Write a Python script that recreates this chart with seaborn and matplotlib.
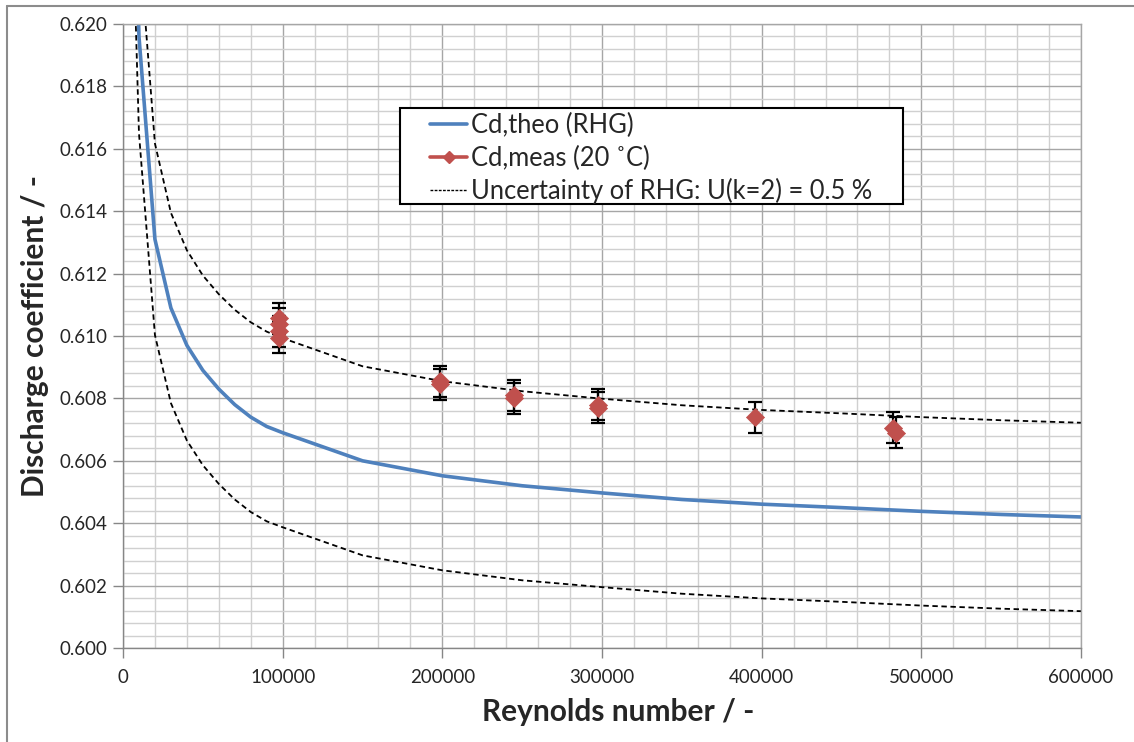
import numpy as np
import pandas as pd
import matplotlib
matplotlib.use("Agg")
import matplotlib.pyplot as plt
from matplotlib.lines import Line2D
from matplotlib.patches import Rectangle
from matplotlib.ticker import MultipleLocator, FormatStrFormatter
import seaborn as sns

# theoretical curve (RHG)
re_theo = [5000, 10000, 20000, 30000, 40000, 50000, 60000, 70000, 80000, 90000,
           100000, 150000, 200000, 250000, 300000, 350000, 400000, 450000,
           500000, 550000, 600000]
cd_theo = [0.62850, 0.61960, 0.61310, 0.61090, 0.60970, 0.60890, 0.60830, 0.60780,
           0.60740, 0.60710, 0.60690, 0.60600, 0.60552, 0.60520, 0.60497, 0.60476,
           0.60461, 0.60450, 0.60438, 0.60428, 0.60420]
# uncertainty band +/- 0.5 %
cd_upper = [0.63164, 0.62270, 0.61617, 0.61395, 0.61275, 0.61194, 0.61134, 0.61084,
            0.61044, 0.61014, 0.60993, 0.60903, 0.60855, 0.60823, 0.60799, 0.60778,
            0.60763, 0.60752, 0.60740, 0.60730, 0.60722]
cd_lower = [0.62536, 0.61650, 0.61003, 0.60785, 0.60665, 0.60586, 0.60526, 0.60476,
            0.60436, 0.60406, 0.60387, 0.60297, 0.60249, 0.60217, 0.60195, 0.60174,
            0.60159, 0.60148, 0.60136, 0.60126, 0.60118]

# measurements at 20 C
re_meas = [98000, 98000, 98000, 98000, 198500, 198500, 245000, 245000,
           297500, 297500, 396000, 482500, 484000]
cd_meas = [0.61057, 0.61040, 0.61015, 0.60995, 0.60855, 0.60845, 0.60810, 0.60800,
           0.60780, 0.60770, 0.60740, 0.60706, 0.60690]
cd_err = [0.0005] * len(cd_meas)

theo = pd.DataFrame({'Re': re_theo, 'Cd': cd_theo})
band = pd.DataFrame({'Re': re_theo + re_theo,
                     'Cd': cd_upper + cd_lower,
                     'side': ['upper'] * len(re_theo) + ['lower'] * len(re_theo)})
meas = pd.DataFrame({'Re': re_meas, 'Cd': cd_meas, 'err': cd_err})

sns.set_style('white')
plt.rcParams['font.family'] = ['Lato', 'DejaVu Sans']

blue = '#4F81BD'
red = '#C0504D'

fig = plt.figure(figsize=(11.34, 7.42), dpi=100)
ax = fig.add_axes([123 / 1134, 1 - 648 / 742, 958 / 1134, 624 / 742])

ax.set_xlim(0, 600000)
ax.set_ylim(0.600, 0.620)
ax.xaxis.set_major_locator(MultipleLocator(100000))
ax.xaxis.set_minor_locator(MultipleLocator(20000))
ax.yaxis.set_major_locator(MultipleLocator(0.002))
ax.yaxis.set_minor_locator(MultipleLocator(0.0004))
ax.grid(which='major', color='#A6A6A6', linewidth=1.0)
ax.grid(which='minor', color='#D0D0D0', linewidth=1.0)
ax.set_axisbelow(True)

sns.lineplot(data=band, x='Re', y='Cd', units='side', estimator=None, color='black',
             linewidth=1.3, linestyle=(0, (3, 2)), ax=ax, legend=False)
sns.lineplot(data=theo, x='Re', y='Cd', color=blue, linewidth=2.6, ax=ax, legend=False)

ax.errorbar(meas['Re'], meas['Cd'], yerr=meas['err'], fmt='none', ecolor='black',
            elinewidth=1.6, capsize=5, capthick=1.6, zorder=4)
sns.scatterplot(data=meas, x='Re', y='Cd', marker='D', s=85, color=red,
                edgecolor=red, linewidth=0.5, ax=ax, zorder=5, legend=False)

ax.yaxis.set_major_formatter(FormatStrFormatter('%.3f'))
ax.xaxis.set_major_formatter(FormatStrFormatter('%d'))
ax.tick_params(axis='both', which='major', labelsize=13.5, direction='out', length=7,
               width=1, color='#868686', pad=4, left=True, bottom=True)
ax.tick_params(axis='x', pad=8)
ax.tick_params(which='minor', length=0)
for sp in ax.spines.values():
    sp.set_color('#A6A6A6')
    sp.set_linewidth(1.0)
ax.spines['left'].set_color('#868686')
ax.spines['bottom'].set_color('#868686')

ax.set_xlabel('Reynolds number / -', fontsize=21.5, fontweight='bold', va='center')
ax.set_ylabel('Discharge coefficient / -', fontsize=21.5, fontweight='bold', labelpad=8)
ax.xaxis.set_label_coords(0.517, -0.1026)

# legend box drawn like the Excel one, legend entries inside it
ax.add_patch(Rectangle((0.2891, 0.7115), 0.8142 - 0.2891, 0.8654 - 0.7115,
                       transform=ax.transAxes, facecolor='white', edgecolor='black',
                       linewidth=1.5, zorder=6))
handles = [
    Line2D([], [], color=blue, linewidth=2.6),
    Line2D([], [], color=red, linewidth=2.6, marker='D', markersize=6),
    Line2D([], [], color='black', linewidth=1.0, linestyle=(0, (2, 1))),
]
labels = ['Cd,theo (RHG)', 'Cd,meas (20 \u02daC)', 'Uncertainty of RHG: U(k=2) = 0.5 %']
leg = ax.legend(handles, labels, loc='upper left', bbox_to_anchor=(0.3205, 0.857),
                fontsize=18.4, frameon=False, handlelength=1.45,
                handletextpad=0.15, borderpad=0, labelspacing=0.28,
                borderaxespad=0)
leg.set_zorder(7)

# chart area border
fig.add_artist(Line2D([7 / 1134, 7 / 1134], [0, 1 - 6 / 742], color='#8C8C8C', linewidth=1.5))
fig.add_artist(Line2D([7 / 1134, 1], [1 - 6 / 742, 1 - 6 / 742], color='#8C8C8C', linewidth=1.5))

fig.savefig('out.png', dpi=100)
